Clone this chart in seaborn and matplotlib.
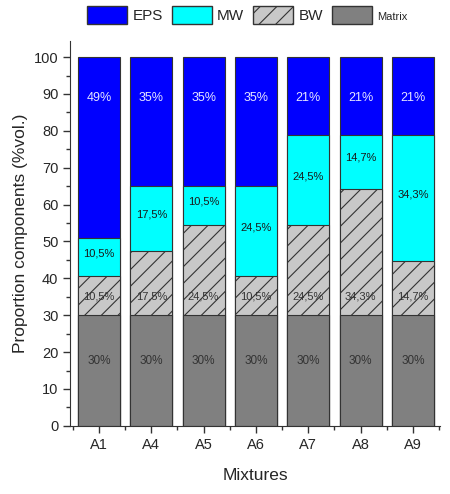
import numpy as np
import pandas as pd
import seaborn as sns
import matplotlib as mpl
import matplotlib.pyplot as plt
from matplotlib.patches import Patch
from matplotlib.ticker import MultipleLocator

sns.set_style('ticks')
plt.rcParams['font.family'] = ['Liberation Sans', 'DejaVu Sans']
mpl.rcParams['hatch.color'] = '#6e6e6e'
mpl.rcParams['hatch.linewidth'] = 0.8

mixtures = ['A1', 'A4', 'A5', 'A6', 'A7', 'A8', 'A9']
matrix = [30, 30, 30, 30, 30, 30, 30]
bw = [10.5, 17.5, 24.5, 10.5, 24.5, 34.3, 14.7]
mw = [10.5, 17.5, 10.5, 24.5, 24.5, 14.7, 34.3]
eps = [49, 35, 35, 35, 21, 21, 21]

df = pd.DataFrame({'Mixture': mixtures, 'Matrix': matrix, 'BW': bw, 'MW': mw, 'EPS': eps})
df['c_matrix'] = df['Matrix']
df['c_bw'] = df['c_matrix'] + df['BW']
df['c_mw'] = df['c_bw'] + df['MW']
df['c_eps'] = df['c_mw'] + df['EPS']

fig = plt.figure(figsize=(4.5, 4.94), dpi=100)
ax = fig.add_axes([0.156, 0.138, 0.822, 0.78])

# stacked look: draw cumulative totals from the top layer down
layers = [('c_eps', '#0000ff', None), ('c_mw', '#00ffff', None),
          ('c_bw', '#c8c8c8', '//'), ('c_matrix', '#808080', None)]
for col, color, hatch in layers:
    sns.barplot(data=df, x='Mixture', y=col, color=color, saturation=1,
                width=0.8, edgecolor='#333333', linewidth=0.8, hatch=hatch, ax=ax)

def fmt(v):
    return (f'{v:g}%').replace('.', ',')

for i in range(len(mixtures)):
    ax.text(i, 89, fmt(eps[i]), ha='center', va='center', color='#e6e6ff', fontsize=9)
    ax.text(i, df['c_bw'][i] + mw[i] / 2 + 1, fmt(mw[i]), ha='center', va='center', color='#1a1a1a', fontsize=8)
    ax.text(i, 35, fmt(bw[i]), ha='center', va='center', color='#333333', fontsize=8)
    ax.text(i, 17.5, fmt(matrix[i]), ha='center', va='center', color='#333333', fontsize=8.5)

ax.set_xlim(-0.55, 6.52)
ax.set_ylim(0, 104.5)
ax.yaxis.set_major_locator(MultipleLocator(10))
ax.yaxis.set_minor_locator(MultipleLocator(5))
ax.set_xticks(np.arange(-0.5, 7, 1), minor=True)
ax.tick_params(axis='both', which='major', length=5, width=1, labelsize=10.5, color='#333333')
ax.tick_params(axis='both', which='minor', length=3, width=1, color='#333333')
ax.set_xlabel('Mixtures', fontsize=12.5, labelpad=12)
ax.set_ylabel('Proportion components (%vol.)', fontsize=12.5)
sns.despine(ax=ax)
for s in ['left', 'bottom']:
    ax.spines[s].set_color('#333333')

handles = [Patch(facecolor='#0000ff', edgecolor='#333333', label='EPS'),
           Patch(facecolor='#00ffff', edgecolor='#333333', label='MW'),
           Patch(facecolor='#c8c8c8', edgecolor='#333333', hatch='//', label='BW'),
           Patch(facecolor='#808080', edgecolor='#333333', label='Matrix')]
leg = fig.legend(handles=handles, loc='upper center', bbox_to_anchor=(0.55, 1.015), ncol=4,
                 frameon=False, fontsize=11, handlelength=2.6, handleheight=1.4,
                 handletextpad=0.35, columnspacing=0.6)
leg.get_texts()[3].set_fontsize(8)

fig.savefig('out.png', dpi=100)
